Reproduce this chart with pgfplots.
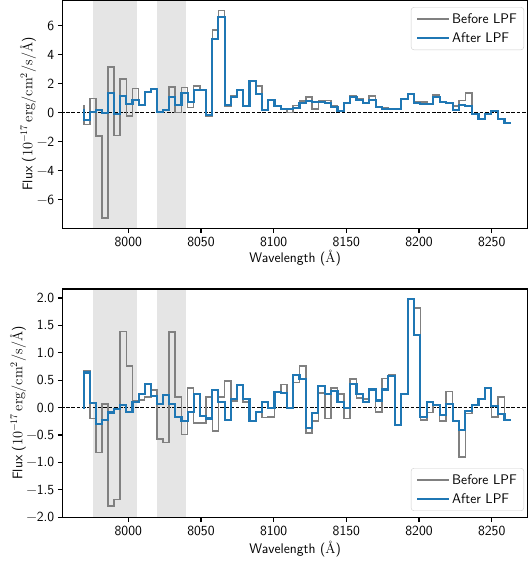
\documentclass[border=0pt]{standalone}
\usepackage{pgfplots}
\usepackage{pgfplotstable}
\pgfplotsset{compat=1.18}
\definecolor{mblue}{HTML}{1F77B4}
\definecolor{mgray}{HTML}{808080}
\definecolor{spang}{HTML}{E5E5E5}
\newcommand{\fs}{\fontsize{13.9}{16.7}\selectfont\sffamily}

\pgfplotstableread{
k lam tb ta bb ba
0 7969.5 0.50 0.28 0.00 -0.02
1 7973.7 -0.83 -0.50 0.68 0.64
2 7977.8 0.97 0.05 -0.20 0.085
3 7982.0 -1.63 0.15 -0.82 -0.30
4 7986.2 -7.26 -0.05 0.07 -0.23
5 7990.3 3.15 1.36 -1.80 -0.09
6 7994.5 -1.59 -0.07 -1.68 -0.03
7 7998.7 2.34 1.15 1.39 0.05
8 8002.9 -0.23 0.62 0.76 -0.08
9 8007.1 1.66 0.90 0.13 0.11
10 8011.3 0.50 0.50 0.14 0.24
11 8015.5 1.45 1.40 0.19 0.43
12 8019.7 1.63 1.63 0.32 0.21
13 8023.9 0.00 0.05 -0.57 0.07
14 8028.1 0.16 0.20 -0.64 0.23
15 8032.3 1.77 1.08 1.38 0.07
16 8036.6 0.00 0.55 0.19 -0.17
17 8040.8 1.72 1.36 -0.49 -0.24
18 8045.0 0.34 0.74 0.36 -0.08
19 8049.3 1.82 1.59 -0.28 0.24
20 8053.5 1.60 1.55 -0.28 -0.15
21 8057.8 -0.23 -0.18 0.19 -0.20
22 8062.0 5.72 5.06 -0.43 0.32
23 8066.3 7.05 6.60 0.19 0.11
24 8070.6 0.45 0.55 0.49 -0.22
25 8074.8 1.15 1.08 0.12 0.15
26 8079.1 1.54 1.54 0.42 0.42
27 8083.4 0.44 0.44 0.10 0.15
28 8087.7 2.16 2.16 -0.25 -0.25
29 8092.0 1.82 1.31 -0.08 -0.085
30 8096.3 0.21 0.21 -0.18 0.10
31 8100.6 0.90 0.90 -0.17 -0.01
32 8104.9 0.50 0.44 0.29 0.29
33 8109.2 0.23 0.23 0.42 0.26
34 8113.5 0.02 0.23 -0.01 -0.01
35 8117.8 0.48 0.34 0.46 0.59
36 8122.2 0.80 0.67 0.76 0.52
37 8126.5 1.08 0.78 -0.46 -0.38
38 8130.8 0.23 0.74 -0.25 -0.10
39 8135.2 0.80 0.74 0.27 0.39
40 8139.5 0.85 0.67 -0.20 0.24
41 8143.9 0.44 0.39 0.36 0.30
42 8148.2 0.09 0.09 0.25 0.10
43 8152.6 0.67 0.67 -0.20 -0.01
44 8157.0 1.13 1.08 0.52 0.43
45 8161.3 0.94 0.85 0.18 0.24
46 8165.7 0.62 0.67 0.16 0.10
47 8170.1 1.13 0.85 0.33 0.33
48 8174.5 0.40 0.40 -0.08 0.13
49 8178.9 0.32 0.28 0.53 0.33
50 8183.3 0.26 0.26 0.60 0.58
51 8187.7 0.26 0.26 -0.31 -0.31
52 8192.1 0.97 0.97 0.24 0.24
53 8196.5 1.31 1.31 1.98 1.98
54 8200.9 0.74 0.67 1.82 1.32
55 8205.3 0.72 0.62 -0.23 -0.17
56 8209.7 0.62 0.62 -0.09 0.10
57 8214.2 1.20 1.10 0.04 0.04
58 8218.6 0.74 0.74 -0.25 -0.13
59 8223.1 0.67 0.67 0.29 0.07
60 8227.5 0.45 0.20 -0.25 -0.25
61 8231.9 0.85 0.50 -0.90 -0.41
62 8236.4 1.36 0.47 -0.11 -0.07
63 8240.9 -0.07 -0.07 0.04 0.04
64 8245.3 -0.48 -0.41 0.16 0.16
65 8249.8 -0.07 -0.07 0.35 0.35
66 8254.3 0.09 0.09 -0.17 0.03
67 8258.8 -0.41 -0.41 0.19 -0.11
68 8263.2 -0.69 -0.69 -0.23 -0.23
}\spec

\pgfplotsset{
  myax/.style={
    scale only axis, width=464.8pt, height=228.3pt,
    anchor=south west,
    axis on top,
    xmin=7954.9, xmax=8274.6,
    axis line style={line width=1.1pt, black},
    tick style={line width=1.1pt, black},
    tick align=outside, major tick length=4.9pt, tick pos=left,
    xtick={8000,8050,8100,8150,8200,8250},
    xticklabels={8000,8050,8100,8150,8200,8250},
    scaled ticks=false,
    tick label style={font=\fs},
    label style={font=\fs},
    xlabel={Wavelength (\textrm{\AA})},
    ylabel={Flux ($10^{-17}\,\mathrm{erg/cm^2/s/}$\textrm{\AA})},
    legend style={font=\fs, draw=black!20, rounded corners=3pt, fill=white,
      fill opacity=0.8, text opacity=1, inner xsep=5pt, inner ysep=4pt, row sep=4pt},
    legend cell align=left,
    legend image code/.code={\draw[##1] (0pt,0pt) -- (32pt,0pt);},
  },
  spanst/.style={fill=spang, draw=none, forget plot},
  grayst/.style={mgray, line width=1.6pt, const plot mark right},
  bluest/.style={mblue, line width=2.1pt, const plot mark right},
}

\begin{document}
\begin{tikzpicture}[x=1pt,y=1pt]
\path[use as bounding box] (0,0) rectangle (528,565);

\begin{axis}[myax, at={(62.7pt,336.7pt)},
  ymin=-7.98, ymax=7.77,
  ytick={-6,-4,-2,0,2,4,6},
  yticklabels={−6,−4,−2,0,2,4,6},
  xlabel style={at={(axis description cs:0.5,-0.13)}, anchor=center},
  ylabel style={at={(axis description cs:-0.0747,0.5)}, anchor=center},
  legend style={at={(0.9925,0.969)}, anchor=north east},
]
\addplot[spanst] coordinates {(7976,-10) (8006,-10) (8006,10) (7976,10)} -- cycle;
\addplot[spanst] coordinates {(8020,-10) (8040,-10) (8040,10) (8020,10)} -- cycle;
\addplot[black, line width=1pt, dash pattern=on 3.7pt off 1.6pt, forget plot] coordinates {(7950,0) (8280,0)};
\addplot[grayst] table[x=lam, y=tb] {\spec};
\addlegendentry{Before LPF}
\addplot[bluest] table[x=lam, y=ta] {\spec};
\addlegendentry{After LPF}
\end{axis}

\begin{axis}[myax, at={(62.7pt,47.7pt)},
  ymin=-2.003, ymax=2.165,
  ytick={-2,-1.5,-1,-0.5,0,0.5,1,1.5,2},
  yticklabels={−2.0,−1.5,−1.0,−0.5,0.0,0.5,1.0,1.5,2.0},
  xlabel style={at={(axis description cs:0.5,-0.139)}, anchor=center},
  ylabel style={at={(axis description cs:-0.096,0.5)}, anchor=center},
  legend style={at={(0.9925,0.0276)}, anchor=south east},
]
\addplot[spanst] coordinates {(7976,-10) (8006,-10) (8006,10) (7976,10)} -- cycle;
\addplot[spanst] coordinates {(8020,-10) (8040,-10) (8040,10) (8020,10)} -- cycle;
\addplot[black, line width=1pt, dash pattern=on 3.7pt off 1.6pt, forget plot] coordinates {(7950,0) (8280,0)};
\addplot[grayst] table[x=lam, y=bb] {\spec};
\addlegendentry{Before LPF}
\addplot[bluest] table[x=lam, y=ba] {\spec};
\addlegendentry{After LPF}
\end{axis}
\end{tikzpicture}
\end{document}
